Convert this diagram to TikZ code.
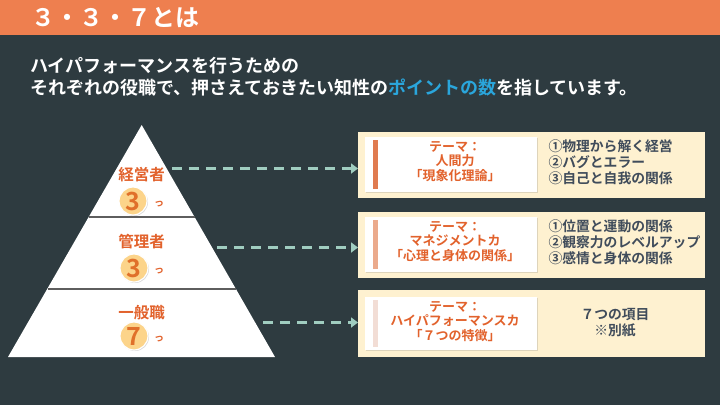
\documentclass[tikz,border=0pt]{standalone}
\usepackage{fontspec}
\setmainfont{Noto Sans CJK JP}[BoldFont={Noto Sans CJK JP Bold}]
\usetikzlibrary{arrows.meta,shadows}
\definecolor{bgc}{HTML}{2E3B40}
\definecolor{headc}{HTML}{EE7F4F}
\definecolor{bluec}{HTML}{2AA6DC}
\definecolor{dashc}{HTML}{A0CDC0}
\definecolor{creamc}{HTML}{FEF1D0}
\definecolor{oranget}{HTML}{E2622C}
\definecolor{itemc}{HTML}{404C5B}
\definecolor{linec}{HTML}{5E5E5E}
\definecolor{badgec}{HTML}{FCD48A}
\definecolor{numc}{HTML}{E0702A}
\definecolor{barA}{HTML}{E07B50}
\definecolor{barB}{HTML}{EBAA8C}
\definecolor{barC}{HTML}{F2DDD5}
\tikzset{
  x=1pt, y=-1pt,
  outerbox/.style={fill=creamc, draw=none},
  innerbox/.style={fill=white, draw=none, drop shadow={shadow xshift=1pt, shadow yshift=-1pt, opacity=0.25}},
  theme/.style={font=\fontsize{13}{14.8}\selectfont\bfseries, text=oranget, align=center},
  items/.style={font=\fontsize{13.8}{15.8}\selectfont\bfseries, text=itemc, align=left, anchor=west},
  level/.style={font=\fontsize{15.5}{17}\selectfont\bfseries, text=oranget},
  badge/.style={circle, fill=badgec, draw=white, line width=1.2pt, minimum size=28pt, inner sep=0pt,
    font=\fontsize{25}{25}\selectfont\bfseries, text=numc, drop shadow={shadow xshift=1pt, shadow yshift=-1pt, opacity=0.3}},
  tsu/.style={font=\fontsize{10}{10}\selectfont\bfseries, text=oranget},
  conn/.style={draw=dashc, line width=3pt, dash pattern=on 10pt off 7pt, -{Triangle[width=10pt,length=7pt]}},
  divider/.style={draw=linec, line width=1.6pt}
}
\begin{document}
\begin{tikzpicture}
\fill[bgc] (0,0) rectangle (720,405);
\useasboundingbox (0,0) rectangle (720,405);
% header
\fill[headc] (0,0) rectangle (720,35);
\node[anchor=west, inner sep=0pt, text=white, font=\fontsize{24}{24}\selectfont\bfseries] (title) at (31,18) {３・３・７とは};
% intro
\node[anchor=west, inner sep=0pt, text=white, font=\fontsize{18}{18}\selectfont\bfseries] (l1) at (30,66) {ハイパフォーマンスを行うための};
\node[anchor=west, inner sep=0pt, text=white, font=\fontsize{18}{18}\selectfont\bfseries] (l2) at (30,88) {それぞれの役職で、押さえておきたい知性の\textcolor{bluec}{ポイントの数}を指しています。};
% pyramid
\fill[white] (141.7,125) -- (275,357) -- (8,357) -- cycle;
\draw[divider] (88.5,217) -- (195,217);
\draw[divider] (47.5,289) -- (236,289);
\node[level] (lv1) at (141.7,175) {経営者};
\node[badge] (b1) at (133,201) {3};
\node[tsu] (t1) at (159,204) {っ};
\node[level] (lv2) at (141.7,242) {管理者};
\node[badge] (b2) at (134,268) {3};
\node[tsu] (t2) at (159,271) {っ};
\node[level] (lv3) at (141.7,313) {一般職};
\node[badge] (b3) at (134,336) {7};
\node[tsu] (t3) at (159,339) {っ};
% boxes
\fill[outerbox] (358,131.7) rectangle (705,198);
\fill[outerbox] (358,211.7) rectangle (705,278);
\fill[outerbox] (358,290) rectangle (705,356.7);
\coordinate (box1) at (358,168.5);
\coordinate (box2) at (358,247.5);
\coordinate (box3) at (358,322.5);
\fill[innerbox] (365,136.7) rectangle (537,191.7);
\fill[innerbox] (365,216.7) rectangle (537,271.7);
\fill[innerbox] (365,296.7) rectangle (537,350);
\fill[barA] (373,140) rectangle (378,188.5);
\fill[barB] (373,220) rectangle (378,268.5);
\fill[barC] (373,300) rectangle (378,347);
\node[theme] (th1) at (455,161.5) {テーマ：\\人間力\\「現象化理論」};
\node[theme] (th2) at (455,241.5) {テーマ：\\マネジメントカ\\「心理と身体の関係」};
\node[theme] (th3) at (455,321.5) {テーマ：\\ハイパフォーマンスカ\\「７つの特徴」};
\node[items] (it1) at (545,162.5) {①物理から解く経営\\②バグとエラー\\③自己と自我の関係};
\node[items] (it2) at (545,242.5) {①位置と運動の関係\\②観察力のレベルアップ\\③感情と身体の関係};
\node[items, anchor=center, align=center] (it3) at (615,323) {７つの項目\\※別紙};
% connectors
\coordinate (p1) at (172,168.5);
\coordinate (p2) at (217,247.5);
\coordinate (p3) at (263,322.5);
\draw[conn] (p1) -- (box1);
\draw[conn] (p2) -- (box2);
\draw[conn] (p3) -- (box3);
\end{tikzpicture}
\end{document}
